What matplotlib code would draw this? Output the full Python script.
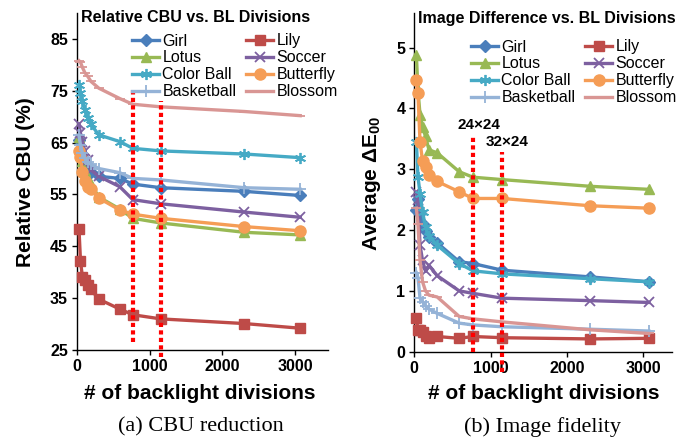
import matplotlib
matplotlib.use("Agg")
import matplotlib.pyplot as plt

plt.rcParams['font.family'] = ['Liberation Sans', 'DejaVu Sans']
plt.rcParams['mathtext.fontset'] = 'custom'
plt.rcParams['mathtext.bf'] = 'Liberation Sans:bold'
plt.rcParams['mathtext.rm'] = 'Liberation Sans'

# ---------------- data ----------------
divisions = [27, 48, 75, 108, 147, 192, 300, 588, 768, 1152, 2304, 3072]
series_names = ["Girl", "Lily", "Lotus", "Soccer", "Color Ball", "Butterfly", "Basketball", "Blossom"]

cbu_girl = [65.5, 63.5, 62.0, 61.0, 60.0, 59.4, 58.5, 58.1, 57.0, 56.3, 55.6, 54.8]
cbu_lily = [48.4, 42.2, 39.0, 38.5, 37.5, 36.7, 34.8, 32.9, 31.8, 31.0, 30.1, 29.2]
cbu_lotus = [66.0, 64.0, 61.5, 59.5, 58.0, 57.0, 54.5, 52.2, 50.4, 49.5, 47.7, 47.2]
cbu_soccer = [68.6, 66.8, 65.2, 63.3, 61.7, 59.7, 58.5, 56.5, 54.0, 53.2, 51.6, 50.6]
cbu_colorball = [76.2, 74.5, 73.0, 71.3, 69.8, 68.5, 66.5, 65.2, 63.9, 63.4, 62.8, 62.1]
cbu_butterfly = [63.3, 62.3, 59.4, 57.5, 56.5, 56.0, 54.3, 52.0, 51.2, 50.4, 48.8, 48.0]
cbu_basketball = [66.5, 64.5, 63.0, 62.0, 61.3, 60.8, 60.0, 59.2, 58.1, 57.8, 56.3, 56.0]
cbu_blossom = [80.8, 80.5, 79.5, 78.5, 77.8, 76.8, 75.5, 73.5, 72.4, 71.9, 71.0, 70.2]

de_girl = [2.33, 2.51, 2.28, 2.10, 1.98, 1.88, 1.79, 1.48, 1.45, 1.34, 1.23, 1.15]
de_lily = [0.55, 0.36, 0.35, 0.32, 0.25, 0.23, 0.25, 0.22, 0.25, 0.23, 0.21, 0.22]
de_lotus = [4.88, 4.30, 3.90, 3.70, 3.54, 3.32, 3.27, 2.96, 2.87, 2.83, 2.72, 2.67]
de_soccer = [2.62, 2.50, 1.75, 1.50, 1.32, 1.42, 1.25, 1.00, 0.96, 0.88, 0.84, 0.81]
de_colorball = [3.45, 2.88, 2.60, 2.30, 2.05, 1.90, 1.75, 1.45, 1.33, 1.28, 1.20, 1.15]
de_butterfly = [4.46, 4.25, 3.45, 3.14, 3.04, 2.90, 2.80, 2.63, 2.52, 2.52, 2.40, 2.36]
de_basketball = [1.30, 1.22, 0.88, 0.82, 0.75, 0.70, 0.63, 0.47, 0.44, 0.41, 0.37, 0.34]
de_blossom = [2.36, 2.10, 1.50, 1.15, 1.00, 0.93, 0.90, 0.58, 0.54, 0.49, 0.36, 0.30]

cbu_values = [cbu_girl, cbu_lily, cbu_lotus, cbu_soccer, cbu_colorball, cbu_butterfly, cbu_basketball, cbu_blossom]
de_values = [de_girl, de_lily, de_lotus, de_soccer, de_colorball, de_butterfly, de_basketball, de_blossom]

ref_x = [768, 1152]
cbu_ref_lo = [26.6, 23.7]
cbu_ref_hi = [75.5, 73.1]
de_ref_lo = [0.0, -0.33]
de_ref_hi = [3.55, 3.29]
ref_labels = ["24×24", "32×24"]

x_ticks = [0, 1000, 2000, 3000]
cbu_ticks = [25, 35, 45, 55, 65, 75, 85]
de_ticks = [0, 1, 2, 3, 4, 5]

# ---------------- styles ----------------
colors = ["#4A7EBB", "#BE4B48", "#98B954", "#7D60A0", "#46AAC5", "#F59D56", "#95B3D7", "#D99694"]
markers = ["D", "s", "^", "x", (6, 2, 0), "o", "+", "_"]
msizes = [6, 7, 7, 7, 8, 8, 8, 7]

W, H = 700, 440
fig = plt.figure(figsize=(7, 4.4), dpi=100)

def px_axes(x0, x1, y0, y1):
    return fig.add_axes([x0 / W, 1 - y1 / H, (x1 - x0) / W, (y1 - y0) / H])

axL = px_axes(77, 328, 13, 350)
axR = px_axes(414.3, 671.7, 13, 351.7)

def style_axis(ax, yt, xlim, ylim):
    ax.set_xlim(*xlim)
    ax.set_ylim(*ylim)
    ax.set_xticks(x_ticks)
    ax.set_yticks(yt)
    for s in ["top", "right"]:
        ax.spines[s].set_visible(False)
    for s in ["left", "bottom"]:
        ax.spines[s].set_linewidth(1.0)
        ax.spines[s].set_color("black")
    ax.tick_params(direction="out", length=3.5, width=1, labelsize=11.5, pad=3)
    for lab in ax.get_xticklabels() + ax.get_yticklabels():
        lab.set_fontweight("bold")

def draw(ax, vals):
    handles = []
    for name, v, c, m, ms in zip(series_names, vals, colors, markers, msizes):
        mew = 1.3 if m in ("x", "+", "_", (6, 2, 0)) else 1.0
        h, = ax.plot(divisions, v, color=c, lw=2.4, marker=m, ms=ms,
                     mec=c, mfc=c, mew=mew, label=name, clip_on=False, zorder=3)
        handles.append(h)
    return handles

hL = draw(axL, cbu_values)
hR = draw(axR, de_values)

for xr, lo, hi in zip(ref_x, cbu_ref_lo, cbu_ref_hi):
    axL.plot([xr, xr], [lo, hi], color="#FF0000", lw=3, ls=(0, (1, 0.8)), clip_on=False, zorder=4)
for xr, lo, hi in zip(ref_x, de_ref_lo, de_ref_hi):
    axR.plot([xr, xr], [lo, hi], color="#FF0000", lw=3, ls=(0, (1, 0.8)), clip_on=False, zorder=4)

style_axis(axL, cbu_ticks, (0, 3454), (25, 90))
style_axis(axR, de_ticks, (0, 3372), (0, 5.57))

# reference labels
axR.text(843, 3.73, ref_labels[0], ha="center", va="center", fontsize=11, fontweight="bold")
axR.text(1219, 3.45, ref_labels[1], ha="center", va="center", fontsize=11, fontweight="bold")

# legends
def make_legend(ax, handles, x, y):
    leg = ax.legend(handles=handles, ncol=2, loc="upper left",
                    bbox_to_anchor=(x / W, 1 - y / H), bbox_transform=fig.transFigure,
                    frameon=False, fontsize=11.5, borderpad=0, borderaxespad=0,
                    handlelength=1.7, handletextpad=0.2, columnspacing=0.6,
                    labelspacing=0.12, numpoints=1)
    return leg

# order column-wise: matplotlib fills columns first
orderL = [hL[i] for i in [0, 2, 4, 6, 1, 3, 5, 7]]
orderR = [hR[i] for i in [0, 2, 4, 6, 1, 3, 5, 7]]
make_legend(axL, orderL, 132, 33.5)
make_legend(axR, orderR, 471, 39.5)

# titles
fig.text(81 / W, 1 - 17 / H, "Relative CBU vs. BL Divisions", ha="left", va="center",
         fontsize=11.5, fontweight="bold")
fig.text(417.7 / W, 1 - 18.3 / H, "Image Difference vs. BL Divisions", ha="left", va="center",
         fontsize=11.5, fontweight="bold")

# axis labels
fig.text(199.7 / W, 1 - 393 / H, "# of backlight divisions", ha="center", va="center",
         fontsize=15, fontweight="bold")
fig.text(544 / W, 1 - 393 / H, "# of backlight divisions", ha="center", va="center",
         fontsize=15, fontweight="bold")
fig.text(26 / W, 1 - 182 / H, "Relative CBU (%)", ha="center", va="center", rotation=90,
         fontsize=15, fontweight="bold")
fig.text(372 / W, 1 - 183 / H, r"Average ΔE$_{\mathbf{00}}$", ha="center", va="center", rotation=90,
         fontsize=15, fontweight="bold")

# captions
fig.text(201 / W, 1 - 427 / H, "(a) CBU reduction", ha="center", va="center",
         fontsize=16, family="Liberation Serif")
fig.text(543 / W, 1 - 427 / H, "(b) Image fidelity", ha="center", va="center",
         fontsize=16, family="Liberation Serif")

fig.savefig("out.png", dpi=100)
